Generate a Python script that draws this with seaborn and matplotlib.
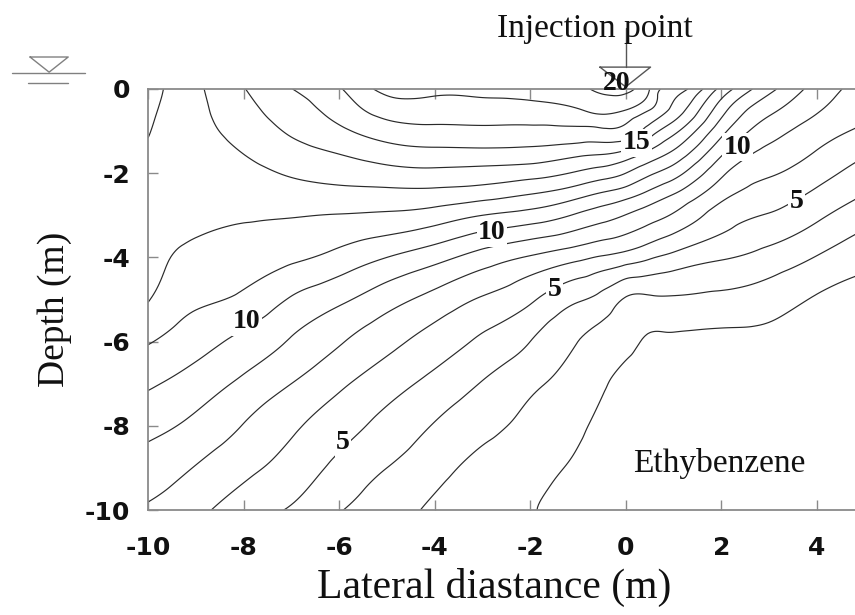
import numpy as np
import matplotlib
matplotlib.use("Agg")
import matplotlib.pyplot as plt
import matplotlib.tri as mtri
import seaborn as sns

# ---------------- data ----------------
X_POS = [-10, -9, -8, -7, -6, -5, -4, -3, -2, -1, -0.5, 0, 0.5, 1, 2, 3, 4, 5]
Y_POS = [0, -0.5, -1, -1.5, -2, -2.5, -3, -4, -5, -6, -7, -8, -9, -10]

# concentration estimated at each grid node, one list per x column (top -> bottom)
C_XM10 = [11.6, 11.8, 11.95, 12.1, 12.2, 12.3, 12.35, 12.3, 12.05, 11.08, 10.15, 9.3, 8.55, 7.85]
C_XM9 = [12.8, 12.75, 12.7, 12.6, 12.5, 12.35, 12.2, 11.75, 11.2, 10.38, 9.54, 8.75, 7.95, 7.27]
C_XM8 = [13.95, 13.65, 13.35, 13.03, 12.72, 12.41, 12.1, 11.5, 10.8, 9.71, 8.79, 7.96, 7.25, 6.45]
C_XM7 = [14.98, 14.55, 14.13, 13.63, 13.1, 12.58, 12.05, 11.2, 9.9, 8.91, 8.0, 7.17, 6.6, 5.9]
C_XM6 = [15.9, 15.4, 14.8, 14.07, 13.38, 12.68, 11.96, 10.67, 9.2, 8.1, 7.18, 6.43, 5.73, 5.07]
C_XM5 = [17.3, 16.43, 15.5, 14.56, 13.64, 12.7, 11.85, 10.0, 8.4, 7.3, 6.42, 5.67, 5.0, 4.45]
C_XM4 = [17.25, 16.54, 15.73, 14.76, 13.74, 12.67, 11.56, 9.35, 7.65, 6.57, 5.69, 4.94, 4.35, 3.8]
C_XM3 = [17.3, 16.58, 15.77, 14.78, 13.62, 12.43, 11.0, 8.56, 6.89, 5.82, 4.94, 4.29, 3.7, 3.3]
C_XM2 = [17.5, 16.6, 15.75, 14.7, 13.4, 12.0, 10.6, 7.9, 6.15, 5.0, 4.2, 3.75, 3.38, 3.05]
C_XM1 = [19.0, 16.9, 15.75, 14.33, 12.86, 11.33, 9.86, 7.25, 5.1, 4.0, 3.58, 3.17, 2.8, 2.5]
C_XM05 = [21.0, 17.4, 15.8, 14.2, 12.5, 10.86, 9.43, 6.89, 4.67, 3.65, 3.15, 2.7, 2.35, 2.0]
C_X0 = [21.5, 17.0, 15.67, 13.8, 12.0, 10.41, 8.97, 6.56, 3.9, 3.23, 2.65, 2.2, 1.85, 1.5]
C_X05 = [17.0, 16.0, 14.5, 12.83, 11.17, 9.71, 8.44, 6.12, 3.82, 2.9, 2.5, 2.1, 1.8, 1.5]
C_X1 = [15.6, 14.71, 13.29, 11.86, 10.43, 9.0, 7.89, 5.7, 3.87, 2.85, 2.4, 2.0, 1.7, 1.4]
C_X2 = [12.7, 11.4, 10.33, 9.22, 8.2, 7.33, 6.54, 5.11, 3.74, 2.75, 2.3, 1.9, 1.6, 1.3]
C_X3 = [10.3, 9.25, 8.43, 7.75, 7.12, 6.53, 5.93, 4.63, 3.46, 2.7, 2.25, 1.85, 1.55, 1.25]
C_X4 = [8.6, 8.1, 7.5, 6.95, 6.4, 5.8, 5.2, 3.95, 2.9, 2.4, 2.0, 1.7, 1.4, 1.1]
C_X5 = [7.6, 7.3, 6.8, 6.15, 5.55, 5.0, 4.4, 3.3, 2.6, 2.15, 1.8, 1.5, 1.25, 1.0]

LEVELS = [3, 4, 5, 6, 7, 8, 9, 10, 11, 12, 13, 14, 15, 16, 17, 20]

X_TICKS = [-10, -8, -6, -4, -2, 0, 2, 4]
X_TICK_LABELS = ["-10", "-8", "-6", "-4", "-2", "0", "2", "4"]
Y_TICKS = [0, -2, -4, -6, -8, -10]
Y_TICK_LABELS = ["0", "-2", "-4", "-6", "-8", "-10"]

LABEL_TEXT = ["20", "15", "10", "5", "10", "5", "10", "5"]
LABEL_X = [-0.19, 0.23, 2.34, 3.58, -2.8, -1.49, -7.93, -5.92]
LABEL_Y = [0.12, -1.28, -1.38, -2.68, -3.42, -4.77, -5.53, -8.4]

# ---------------- figure ----------------
sns.set_theme(style="white")
plt.rcParams["font.family"] = ["Liberation Serif", "DejaVu Serif"]

fig = plt.figure(figsize=(8.55, 6.15), dpi=100)
ax = fig.add_axes([148 / 855, 105 / 615, 707 / 855, 421 / 615])

cols = [C_XM10, C_XM9, C_XM8, C_XM7, C_XM6, C_XM5, C_XM4, C_XM3, C_XM2, C_XM1,
        C_XM05, C_X0, C_X05, C_X1, C_X2, C_X3, C_X4, C_X5]
Z = np.array(cols, dtype=float).T  # rows = Y, cols = X
Xg, Yg = np.meshgrid(np.array(X_POS, float), np.array(Y_POS, float))
ny, nx = Z.shape
tris = []
for j in range(ny - 1):
    for i in range(nx - 1):
        a = j * nx + i
        b = a + 1
        c = a + nx
        d = c + 1
        if (i + j) % 2 == 0:
            tris.append([a, b, d])
            tris.append([a, d, c])
        else:
            tris.append([a, b, c])
            tris.append([b, d, c])
tri = mtri.Triangulation(Xg.ravel(), Yg.ravel(), triangles=np.array(tris))
interp = mtri.CubicTriInterpolator(tri, Z.ravel(), kind="min_E")
refiner = mtri.UniformTriRefiner(tri)
tri_r, z_r = refiner.refine_field(Z.ravel(), triinterpolator=interp, subdiv=4)
ax.tricontour(tri_r, z_r, levels=LEVELS, colors="#2a2a2a", linewidths=0.85)

ax.set_xlim(-10, 4.8)
ax.set_ylim(-10, 0)
ax.set_xticks(X_TICKS)
ax.set_yticks(Y_TICKS)
tick_font = {"family": "DejaVu Sans", "weight": "bold", "size": 18}
ax.set_xticklabels(X_TICK_LABELS, fontdict=tick_font, color="#111111")
ax.set_yticklabels(Y_TICK_LABELS, fontdict=tick_font, color="#111111")
ax.tick_params(axis="x", direction="in", length=7, width=1, color="#8a8a8a",
               top=True, bottom=True, pad=19)
ax.tick_params(axis="y", direction="in", length=7, width=1, color="#8a8a8a",
               left=True, right=False, pad=13)
for side in ["left", "bottom", "top"]:
    ax.spines[side].set_color("#8a8a8a")
    ax.spines[side].set_linewidth(1.3)
ax.spines["right"].set_visible(False)

ax.set_xlabel("Lateral diastance (m)", fontsize=30, color="#111111")
ax.set_ylabel("Depth (m)", fontsize=27, color="#111111")
ax.xaxis.set_label_coords(0.49, -0.138)
ax.yaxis.set_label_coords(-0.108, 0.477)

# contour labels
for t, lx, ly in zip(LABEL_TEXT, LABEL_X, LABEL_Y):
    kw = {}
    if t != "20":
        kw["bbox"] = dict(facecolor="white", edgecolor="none", pad=1.0)
    ax.text(lx, ly, t, fontsize=20, fontweight="bold", ha="center", va="center",
            color="#111111", clip_on=False, zorder=5, **kw)

# injection point symbol
ax.plot([-0.54, 0.52, 0.0, -0.54], [0.52, 0.52, 0.05, 0.52], color="#555555",
        lw=1.0, clip_on=False)
ax.plot([0, 0], [0.52, 1.45], color="#555555", lw=1.0, clip_on=False)
ax.text(-0.65, 1.24, "Injection point", fontsize=24, ha="center", va="baseline",
        color="#111111", clip_on=False)

# water table symbol
ax.plot([-12.47, -11.67, -12.07, -12.47], [0.76, 0.76, 0.40, 0.76], color="#808080",
        lw=1.0, clip_on=False)
ax.plot([-12.85, -11.32], [0.38, 0.38], color="#808080", lw=1.0, clip_on=False)
ax.plot([-12.51, -11.67], [0.14, 0.14], color="#808080", lw=1.0, clip_on=False)

ax.text(1.95, -9.1, "Ethybenzene", fontsize=24, ha="center", va="baseline",
        color="#111111")

fig.savefig("out.png", dpi=100)
